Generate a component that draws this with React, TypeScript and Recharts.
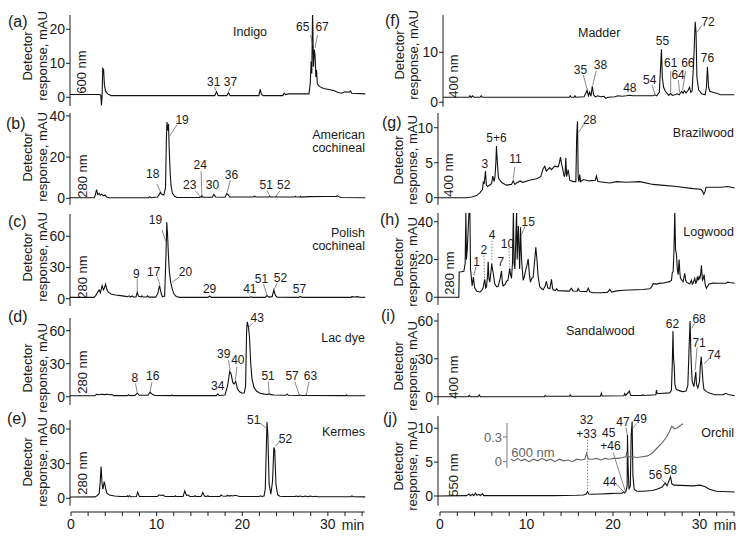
import React from "react";
import { LineChart, Line, XAxis, YAxis, ReferenceLine, ReferenceDot } from "recharts";

type Pt = [number, number];
type Note = { text: string; at: Pt; lead?: [Pt, Pt]; dash?: boolean };

// retention time (min), detector response (mAU)
const indigo: Pt[] = [
  [-0.2, 0.8], [3.2, 0.8], [3.4, 0.6], [3.47, -2.4], [3.55, 0.4], [3.62, 8.5], [3.72, 8.2], [3.82, 3.5], [3.95, 1.8], [4.2, 1.0], [4.6, 0.5],
  [16.7, 0.5], [16.9, 1.6], [17.1, 0.5], [18.1, 0.5], [18.3, 1.3], [18.5, 0.5], [21.85, 0.5], [22.0, 2.3], [22.15, 0.9], [22.35, 0.5],
  [24.65, 0.5], [24.8, 1.2], [24.95, 0.8], [25.3, 1.0], [27.7, 1.0], [27.85, 4], [27.95, 10.5], [28.03, 7], [28.12, 26], [28.22, 9],
  [28.33, 14], [28.42, 12], [28.5, 6], [28.58, 8], [28.68, 4], [28.9, 3.2], [29.4, 2.6], [30.0, 2.3], [30.6, 2.0], [31.1, 1.4],
  [31.5, 1.2], [31.9, 1.6], [32.4, 1.5], [32.55, 1.9], [32.7, 1.2], [34.3, 1.0],
];
const americanCochineal: Pt[] = [
  [-0.2, 0.3], [2.6, 0.3], [2.75, 1.5], [2.9, 4.2], [3.05, 1.8], [3.2, 2.4], [3.35, 1.5], [3.5, 2.0], [3.7, 1.2], [3.9, 1.6], [4.1, 0.5],
  [4.4, 0.3], [9.0, 0.3], [9.1, 0.8], [9.25, 0.3], [10.0, 0.6], [10.2, 1.6], [10.35, 2.9], [10.5, 2.0], [10.75, 1.6], [10.95, 5],
  [11.05, 28], [11.12, 37], [11.2, 33], [11.3, 36], [11.4, 22], [11.5, 12], [11.6, 6], [11.75, 2.5], [12.0, 1.0], [12.3, 0.4],
  [14.9, 0.4], [15.0, 0.8], [15.1, 0.5], [15.2, 1.3], [15.3, 0.5], [16.4, 0.5], [16.6, 1.9], [16.8, 0.6], [17.9, 0.5], [18.1, 2.3],
  [18.3, 1.5], [18.45, 0.6], [21.2, 0.6], [21.35, 1.0], [21.5, 0.6], [23.0, 0.6], [23.1, 1.1], [23.2, 0.6], [23.8, 0.6], [23.9, 1.0],
  [24.0, 0.6], [26.0, 0.6], [26.1, 1.0], [26.2, 0.6], [26.6, 0.6], [26.7, 1.0], [26.8, 0.6], [27.7, 0.8], [29.5, 0.9], [30.9, 0.9],
  [31.0, 1.3], [31.2, 0.8], [31.5, 0.4], [34.3, 0.3],
];
const polishCochineal: Pt[] = [
  [-0.2, 1.3], [2.6, 1.3], [2.8, 3], [3.0, 6], [3.2, 8.5], [3.35, 5.5], [3.55, 12.5], [3.7, 8.5], [3.8, 10], [3.95, 14], [4.1, 9],
  [4.3, 6], [4.6, 4.5], [5.1, 3.5], [5.7, 3], [6.5, 2], [6.7, 2.8], [6.85, 1.6], [7.05, 2.6], [7.2, 1.6], [7.5, 1.6], [7.65, 6],
  [7.8, 2.3], [8.1, 1.8], [8.2, 2.8], [8.35, 1.6], [8.75, 1.6], [8.85, 2.8], [9.0, 1.5], [9.8, 1.5], [10.05, 5], [10.25, 12.5],
  [10.45, 5], [10.6, 1.8], [10.85, 2.5], [11.0, 40], [11.1, 73.5], [11.2, 60], [11.3, 40], [11.4, 26], [11.55, 16], [11.75, 9],
  [11.95, 4.5], [12.2, 2.2], [12.6, 1.3], [15.9, 1.3], [16.1, 2.6], [16.3, 1.3], [20.8, 1.3], [20.95, 1.9], [21.1, 1.3], [22.6, 1.3],
  [22.8, 3.0], [23.0, 1.6], [23.4, 2.0], [23.6, 8.3], [23.8, 3], [24.0, 1.5], [26.5, 1.3], [26.7, 2.2], [26.9, 1.3], [32.6, 1.3],
  [32.7, 2], [33.1, 1.7], [33.3, 2], [33.6, 1.5], [34.3, 1.3],
];
const lacDye: Pt[] = [
  [-0.2, 0.9], [2.7, 0.9], [2.9, 2.2], [3.2, 1.8], [3.5, 2.2], [3.8, 1.9], [4.1, 2.2], [4.4, 1.8], [4.7, 2.0], [4.9, 1.0], [6.5, 1.0],
  [6.65, 1.8], [6.8, 1.0], [7.4, 1.2], [7.65, 3.2], [7.9, 1.3], [8.9, 1.3], [9.15, 4.2], [9.4, 2.2], [9.7, 1.1], [11.6, 1.0],
  [11.7, 1.6], [11.8, 1.0], [16.9, 1.0], [17.05, 2.5], [17.2, 1.1], [17.9, 1.5], [18.2, 10], [18.45, 23], [18.6, 21], [18.8, 13],
  [18.95, 11.5], [19.15, 14], [19.35, 7], [19.6, 4.5], [19.9, 3.2], [20.15, 3.5], [20.3, 10], [20.42, 60], [20.5, 68], [20.62, 64],
  [20.75, 55], [20.9, 30], [21.05, 16], [21.3, 8], [21.6, 5], [22.0, 3.2], [22.5, 2.4], [22.9, 2.1], [23.05, 2.8], [23.25, 1.9],
  [23.6, 1.6], [25.0, 1.3], [25.15, 2.5], [25.3, 1.3], [26.5, 1.1], [26.6, 1.6], [26.7, 1.1], [27.3, 1.1], [27.4, 1.6], [27.5, 1.1],
  [32.0, 1.0], [32.1, 1.6], [32.2, 1.0], [34.3, 0.9],
];
const kermes: Pt[] = [
  [-0.2, 1.1], [2.7, 1.2], [2.95, 2.2], [3.2, 4], [3.33, 15], [3.43, 27.4], [3.55, 12], [3.65, 8], [3.8, 14.4], [3.95, 9], [4.1, 4.5],
  [4.4, 2.8], [5.0, 2.0], [5.7, 1.5], [6.4, 1.5], [6.5, 2.2], [6.6, 1.4], [6.75, 2.2], [6.9, 1.4], [7.55, 1.5], [7.7, 5.3], [7.9, 1.6],
  [10.0, 1.5], [10.2, 3.0], [10.45, 2.5], [10.7, 2.8], [10.9, 1.5], [12.0, 1.5], [12.1, 2.2], [12.2, 1.5], [13.0, 1.6], [13.2, 6.3],
  [13.4, 2.5], [13.6, 2.8], [13.8, 1.6], [14.3, 1.6], [14.4, 2.3], [14.5, 1.6], [15.1, 1.6], [15.3, 5], [15.5, 1.8], [15.8, 1.7],
  [15.9, 2.2], [16.0, 1.6], [17.3, 1.6], [17.45, 2.8], [17.6, 2], [18.0, 1.8], [18.2, 2.5], [18.4, 1.9], [18.6, 2.4], [18.9, 2.0],
  [19.0, 2.6], [19.3, 2.2], [19.6, 1.6], [21.9, 1.6], [22.05, 2.2], [22.2, 1.6], [22.45, 2.0], [22.6, 8], [22.7, 37], [22.8, 66],
  [22.9, 55], [23.05, 12], [23.25, 3.5], [23.45, 15], [23.6, 44], [23.7, 42], [23.85, 12], [24.05, 3], [24.3, 1.8], [24.7, 1.5],
  [26.1, 1.5], [26.2, 2.0], [26.4, 1.5], [26.7, 2], [26.9, 1.4], [27.3, 1.9], [27.5, 1.4], [27.9, 1.9], [28.1, 1.4], [28.5, 1.8],
  [28.65, 1.4], [32.6, 1.3], [32.7, 2.0], [32.9, 1.4], [34.3, 1.2],
];
const madder: Pt[] = [
  [0.3, 1.0], [3.3, 1.0], [3.4, 1.3], [3.55, 1.0], [3.7, 1.3], [3.85, 1.0], [4.6, 1.0], [4.7, 1.3], [4.85, 1.0], [14.9, 1.0], [15.0, 1.3],
  [15.1, 1.0], [15.45, 1.0], [15.55, 1.3], [15.65, 1.0], [16.6, 1.1], [16.8, 1.8], [16.95, 2.4], [17.1, 1.3], [17.25, 2.0], [17.4, 1.2],
  [17.55, 3.2], [17.7, 1.5], [17.9, 1.1], [18.2, 1.3], [18.5, 1.1], [18.9, 1.2], [19.1, 0.8], [19.4, 1.0], [20.2, 1.1], [20.5, 1.3],
  [21.0, 1.2], [21.5, 1.3], [21.85, 1.4], [22.2, 1.3], [24.6, 1.3], [24.8, 1.5], [25.0, 1.3], [25.3, 2.0], [25.42, 6], [25.55, 10.6],
  [25.65, 5], [25.8, 3], [26.0, 2.2], [26.4, 1.4], [26.6, 1.8], [26.8, 1.4], [27.1, 1.5], [27.4, 1.7], [27.6, 1.5], [27.9, 2.2],
  [28.05, 1.8], [28.2, 2.3], [28.4, 1.9], [28.6, 2.3], [28.8, 3.0], [28.95, 2.0], [29.1, 2.3], [29.3, 9], [29.45, 16.1], [29.55, 14],
  [29.65, 5], [29.85, 2.5], [30.2, 1.7], [30.6, 1.5], [30.75, 3], [30.87, 7.1], [31.0, 3], [31.15, 2.2], [31.5, 2.0], [31.9, 1.8],
  [32.4, 1.5], [34.0, 1.5],
];
const brazilwood: Pt[] = [
  [-0.29, 0], [3.0, 0], [3.6, 0.1], [4.16, 0.3], [4.55, 0.7], [4.86, 1.2], [4.95, 2.3], [5.05, 2.0], [5.2, 3.8], [5.3, 1.8], [5.45, 1.6],
  [5.9, 2.0], [6.05, 3.1], [6.2, 2.3], [6.3, 3.0], [6.4, 5], [6.47, 7.4], [6.55, 5.5], [6.7, 2.8], [7.05, 2.2], [7.6, 1.8], [8.2, 1.9],
  [8.4, 2.4], [8.6, 1.9], [8.8, 2.1], [9.2, 2.4], [9.5, 2.2], [10.3, 2.5], [11.1, 2.7], [11.6, 3.0], [11.85, 4.1], [12.05, 4.5],
  [12.25, 3.8], [12.6, 4.3], [12.83, 4.0], [13.2, 4.5], [13.6, 4.4], [13.75, 5.0], [13.87, 5.8], [14.0, 4.8], [14.1, 4.3], [14.3, 3.0],
  [14.4, 3.4], [14.49, 5.7], [14.58, 3.0], [14.76, 4.0], [14.95, 2.5], [15.34, 2.3], [15.65, 2.3], [15.75, 8.9], [15.84, 10.9],
  [15.92, 3.0], [16.0, 2.3], [16.1, 3.3], [16.2, 2.3], [16.5, 2.6], [17.2, 2.4], [17.9, 2.5], [18.03, 3.1], [18.2, 2.3], [19.57, 2.1],
  [20.35, 2.3], [21.5, 2.2], [23.04, 2.3], [24.58, 1.9], [25.5, 1.8], [27.3, 1.6], [29.2, 1.3], [30.1, 1.2], [30.3, 0.9], [30.45, 0.5],
  [30.6, 0.9], [30.7, 1.5], [31.14, 1.5], [32.5, 1.5], [33.2, 1.6], [34.03, 1.4],
];
const logwood: Pt[] = [
  [-0.29, 0], [2.12, 0], [2.16, 13.4], [2.4, 13.5], [2.7, 13.8], [2.85, 18], [2.93, 46], [3.0, 20], [3.09, 25], [3.3, 46], [3.4, 46],
  [3.47, 15], [3.58, 9.8], [3.66, 6], [3.8, 10.7], [3.95, 5], [4.2, 3.2], [4.55, 2.8], [4.75, 3.5], [4.93, 5], [5.05, 8], [5.12, 9.5],
  [5.22, 5], [5.32, 5.5], [5.45, 12], [5.51, 18.8], [5.6, 10], [5.7, 8], [5.82, 13], [5.93, 18], [6.0, 15], [6.09, 13], [6.28, 7],
  [6.5, 5.5], [6.67, 5.8], [6.9, 10], [7.05, 13.9], [7.15, 8], [7.24, 6], [7.5, 7], [7.63, 8.5], [7.8, 9], [8.01, 15.3], [8.1, 12],
  [8.21, 10], [8.32, 18], [8.43, 46], [8.5, 18], [8.6, 15], [8.7, 30], [8.8, 46], [8.86, 20], [9.0, 37.7], [9.08, 25], [9.15, 15],
  [9.25, 37], [9.33, 25], [9.4, 18], [9.56, 9], [9.7, 11], [9.83, 14], [10.0, 17], [10.14, 20.3], [10.28, 12], [10.4, 8], [10.55, 10],
  [10.71, 10.5], [10.9, 20], [11.02, 26.5], [11.15, 20], [11.29, 11], [11.48, 5.6], [11.7, 4.5], [11.87, 4.0], [12.1, 6], [12.25, 8.5],
  [12.4, 5], [12.64, 4.5], [12.83, 9.5], [12.95, 5], [13.02, 4], [13.3, 3.6], [13.41, 4.5], [13.6, 3.5], [14.18, 3.4], [14.9, 3.3],
  [15.14, 4.8], [15.3, 3.3], [15.8, 3.2], [15.92, 4.6], [16.1, 3.2], [16.9, 3.0], [17.08, 4.8], [17.25, 2.9], [17.65, 2.4], [18.5, 2.4],
  [19.3, 2.6], [19.57, 4.2], [19.8, 2.8], [20.35, 3.4], [21.2, 3.7], [21.89, 3.9], [22.6, 4.0], [23.43, 4.1], [24.2, 4.5], [24.4, 5.5],
  [24.58, 7.2], [25.0, 7.0], [25.36, 7.5], [25.7, 7.4], [26.13, 8.0], [26.5, 8.3], [26.71, 9], [26.8, 13], [26.9, 13.5], [27.0, 25],
  [27.09, 46], [27.18, 25], [27.28, 23], [27.38, 15], [27.48, 12], [27.59, 20], [27.68, 13], [27.75, 10], [28.05, 8.2], [28.24, 12.7],
  [28.35, 9], [28.44, 8], [28.82, 7], [29.02, 9], [29.12, 7], [29.21, 7.5], [29.4, 10], [29.5, 7.5], [29.6, 8], [29.7, 11], [29.79, 9],
  [29.9, 11], [29.98, 10], [30.08, 12], [30.17, 17], [30.29, 9], [30.4, 10], [30.48, 12], [30.6, 7], [30.75, 4.8], [30.9, 6],
  [31.06, 7], [31.52, 7.5], [32.2, 7.4], [33.06, 7.5], [33.2, 8], [33.45, 7.8], [34.03, 7.4],
];
const sandalwood: Pt[] = [
  [-0.29, 0], [3.2, 0], [3.32, 1], [3.45, 0], [4.35, 0], [4.48, 1.5], [4.6, 0], [12.0, 0], [12.1, 1], [12.2, 0.3], [14.9, 0.3],
  [15.0, 1.5], [15.1, 0.4], [18.5, 0.4], [18.6, 2.8], [18.7, 0.5], [21.2, 0.8], [21.3, 2.5], [21.4, 1], [21.85, 4.5], [21.95, 1.5],
  [22.1, 1], [23.3, 1], [23.4, 1.5], [23.5, 1], [24.9, 1.5], [24.97, 5.2], [25.05, 2.5], [25.36, 2.5], [26.5, 3], [26.7, 5], [26.8, 25],
  [26.88, 52], [26.95, 30], [27.02, 25], [27.1, 10], [27.25, 6], [27.5, 5], [28.0, 4], [28.4, 4.5], [28.6, 9], [28.75, 40], [28.86, 60],
  [28.97, 30], [29.1, 12], [29.3, 8], [29.45, 16], [29.52, 19.8], [29.6, 10], [29.75, 7], [29.87, 10], [29.95, 12], [30.05, 25],
  [30.15, 31.7], [30.25, 22], [30.35, 12], [30.45, 6], [30.75, 4], [31.1, 3], [31.7, 1.5], [32.7, 1.5], [32.9, 2.5], [33.1, 2.3],
  [33.3, 1.8], [34.03, 0.8],
];
const orchil550: Pt[] = [
  [-0.29, 0], [3.0, 0.05], [3.3, 0.3], [3.45, 0.05], [3.7, 0.25], [3.85, 0.05], [4.05, 0.4], [4.2, 0.1], [4.45, 0.25], [4.6, 0.05],
  [4.85, 0.35], [5.0, 0.05], [13.0, 0.05], [15.7, 0.1], [16.5, 0.15], [16.85, 0.3], [17.0, 0.65], [17.15, 0.3], [17.6, 0.25],
  [18.5, 0.3], [19.5, 0.35], [20.3, 0.4], [21.0, 0.4], [21.2, 0.6], [21.3, 0.45], [21.45, 0.7], [21.58, 1.5], [21.62, 9.0], [21.7, 4],
  [21.8, 1.0], [21.95, 1.5], [22.05, 9], [22.16, 11], [22.25, 3], [22.4, 1.0], [22.5, 0.9], [22.7, 0.7], [23.5, 0.7], [24.5, 0.8],
  [25.0, 1.0], [25.6, 1.3], [26.0, 1.9], [26.2, 1.5], [26.6, 2.85], [26.75, 1.8], [27.0, 1.6], [29.2, 1.5], [30.0, 1.6], [30.56, 1.4],
  [31.1, 1.0], [31.9, 0.7], [34.03, 0.6],
];
// inset: orchil at 600 nm
const orchil600: Pt[] = [
  [8.2, 0.03], [8.6, 0.01], [9.0, 0.04], [9.4, 0.01], [9.8, 0.03], [10.3, 0.0], [10.8, 0.03], [11.3, 0.01], [11.8, 0.04], [12.3, 0.01],
  [12.8, 0.03], [13.3, 0.0], [13.8, 0.03], [14.3, 0.01], [14.8, 0.02], [15.3, 0.0], [15.8, 0.03], [16.3, 0.02], [16.75, 0.03],
  [16.95, 0.1], [17.15, 0.03], [17.6, 0.03], [18.1, 0.04], [18.6, 0.02], [19.1, 0.04], [19.6, 0.03], [20.1, 0.04], [20.6, 0.04],
  [21.1, 0.05], [21.5, 0.06], [21.6, 0.12], [21.7, 0.06], [22.2, 0.06], [22.8, 0.05], [23.4, 0.06], [24.0, 0.07], [24.5, 0.1],
  [25.05, 0.16], [25.6, 0.22], [26.2, 0.3], [26.5, 0.36], [26.8, 0.43], [27.1, 0.4], [27.4, 0.41], [27.8, 0.44], [28.1, 0.46],
];

// peak numbers: label position and leader line, in data units
const notesIndigo: Note[] = [
  { text: "65", at: [26.97, 20.8], lead: [[27.87, 18.3], [28.14, 15.4]] },
  { text: "67", at: [29.23, 20.8], lead: [[28.7, 18.3], [28.4, 14.5]] },
  { text: "31", at: [16.58, 4.6], lead: [[16.65, 3.1], [16.85, 1.9]] },
  { text: "37", at: [18.53, 4.6], lead: [[18.55, 3.1], [18.3, 1.6]] },
];
const notesAmerican: Note[] = [
  { text: "19", at: [12.89, 38], lead: [[12.3, 35.7], [11.4, 30]] },
  { text: "18", at: [9.46, 12.1], lead: [[9.96, 6.9], [10.35, 3.2]] },
  { text: "23", at: [13.78, 6.5], lead: [[14.44, 3.6], [14.95, 1.3]] },
  { text: "24", at: [15.0, 16.2], lead: [[15.1, 13.2], [15.2, 1.6]] },
  { text: "30", at: [16.43, 6.5] },
  { text: "36", at: [18.65, 11.6], lead: [[18.52, 8.8], [18.14, 2.8]] },
  { text: "51", at: [22.7, 6.5], lead: [[22.8, 3.7], [23.1, 1.4]] },
  { text: "52", at: [24.75, 6.5], lead: [[24.3, 3.6], [23.9, 1.3]] },
];
const notesPolish: Note[] = [
  { text: "19", at: [9.78, 75.7], lead: [[10.55, 66], [11.0, 55]] },
  { text: "20", at: [13.28, 26], lead: [[12.6, 21], [11.75, 16]] },
  { text: "9", at: [7.55, 24.4], lead: [[7.65, 19.6], [7.65, 6.5]] },
  { text: "17", at: [9.57, 26], lead: [[10.0, 21], [10.3, 13.5]] },
  { text: "29", at: [16.1, 9.3] },
  { text: "41", at: [20.8, 9.3] },
  { text: "51", at: [22.15, 19.5], lead: [[22.4, 14], [22.8, 3.5]] },
  { text: "52", at: [24.37, 20.5], lead: [[24.0, 15.2], [23.6, 8.8]] },
  { text: "57", at: [26.6, 9.3] },
];
const notesLac: Note[] = [
  { text: "43", at: [21.65, 71.3], lead: [[21.1, 66.8], [20.65, 63]] },
  { text: "39", at: [17.75, 39.5], lead: [[18.3, 33.4], [18.5, 24]] },
  { text: "40", at: [19.4, 33.4], lead: [[19.3, 27.3], [19.1, 15]] },
  { text: "34", at: [17.05, 10] },
  { text: "8", at: [7.36, 17.3], lead: [[7.45, 12.2], [7.65, 3.5]] },
  { text: "16", at: [9.46, 18.8], lead: [[9.38, 13.6], [9.15, 4.5]] },
  { text: "51", at: [22.93, 18.8], lead: [[22.95, 13.6], [23.05, 3]] },
  { text: "57", at: [25.73, 18.8], lead: [[26.05, 13.6], [26.55, 2]] },
  { text: "63", at: [27.87, 18.8], lead: [[27.7, 13.6], [27.4, 2]] },
];
const notesKermes: Note[] = [
  { text: "51", at: [21.25, 67.8], lead: [[22.0, 65], [22.7, 61]] },
  { text: "52", at: [24.95, 52], lead: [[24.37, 50.5], [23.8, 45]] },
];
const notesMadder: Note[] = [
  { text: "72", at: [30.95, 16.1], lead: [[30.17, 15.3], [29.67, 14]] },
  { text: "76", at: [30.87, 9.0] },
  { text: "55", at: [25.66, 12.3] },
  { text: "61", at: [26.62, 7.9], lead: [[26.62, 6.3], [26.62, 2.0]] },
  { text: "64", at: [27.48, 5.5], lead: [[27.5, 4.5], [27.65, 2.0]] },
  { text: "66", at: [28.6, 7.9], lead: [[28.35, 6.3], [28.0, 2.5]] },
  { text: "35", at: [16.18, 6.5], lead: [[16.5, 5.5], [16.96, 2.6]] },
  { text: "38", at: [18.5, 7.5], lead: [[18.0, 6.3], [17.6, 3.4]] },
  { text: "48", at: [21.9, 3.0] },
  { text: "54", at: [24.2, 4.5], lead: [[24.47, 3.4], [24.8, 1.6]] },
];
const notesBrazil: Note[] = [
  { text: "28", at: [17.26, 11.1], lead: [[16.6, 10.5], [15.95, 9.3]] },
  { text: "5+6", at: [6.47, 8.6] },
  { text: "3", at: [5.12, 4.9] },
  { text: "11", at: [8.67, 5.6], lead: [[8.6, 4.4], [8.4, 2.6]] },
];
const notesLogwood: Note[] = [
  { text: "15", at: [10.14, 40], lead: [[9.75, 37.5], [9.36, 33]] },
  { text: "4", at: [5.97, 33], lead: [[5.95, 30], [5.93, 19]], dash: true },
  { text: "2", at: [5.0, 25], lead: [[5.02, 22], [5.1, 10]], dash: true },
  { text: "10", at: [7.75, 28.6], lead: [[7.9, 26], [8.0, 16]], dash: true },
  { text: "7", at: [6.97, 18.8] },
  { text: "1", at: [4.16, 18.8], lead: [[4.1, 16.2], [3.85, 11.5]] },
];
const notesSandal: Note[] = [
  { text: "62", at: [26.82, 58] },
  { text: "68", at: [29.9, 62], lead: [[29.4, 58], [29.0, 54]] },
  { text: "71", at: [29.9, 43], lead: [[29.67, 39], [29.45, 21]] },
  { text: "74", at: [31.64, 33.6], lead: [[31.14, 31], [30.5, 26]] },
];
const notesOrchil: Note[] = [
  { text: "32", at: [16.88, 11.2] },
  { text: "+33", at: [16.88, 9.16], lead: [[17.0, 8.3], [17.0, 0.8]], dash: true },
  { text: "45", at: [19.46, 9.3] },
  { text: "+46", at: [19.65, 7.4], lead: [[19.96, 6.4], [21.4, 0.6]] },
  { text: "44", at: [19.57, 2.1], lead: [[20.3, 1.8], [21.2, 0.6]] },
  { text: "47", at: [21.1, 10.9], lead: [[21.45, 10.1], [21.62, 9.0]] },
  { text: "49", at: [23.1, 11.4], lead: [[22.66, 10.7], [22.23, 10.0]] },
  { text: "56", at: [24.86, 3.2], lead: [[25.55, 2.4], [25.98, 1.9]] },
  { text: "58", at: [26.6, 3.85] },
];

const timeTicks = [0, 2, 4, 6, 8, 10, 12, 14, 16, 18, 20, 22, 24, 26, 28, 30, 32, 34];

type PanelDef = {
  data: Pt[]; notes: Note[]; x0: number; x1: number; top: number; bottom: number;
  t: [number, number]; y: [number, number]; ticks: number[];
};

const L = { x0: 69.5, x1: 365, t: [-0.2, 34.3] as [number, number] };
const R = { x0: 437.5, x1: 734.3, t: [-0.29, 34.03] as [number, number] };

const panels: PanelDef[] = [
  { ...L, data: indigo, notes: notesIndigo, top: 15, bottom: 106, y: [-2.56, 24.2], ticks: [0, 10, 20] },
  { ...L, data: americanCochineal, notes: notesAmerican, top: 113, bottom: 205, y: [-3.25, 41.4], ticks: [0, 20, 40] },
  { ...L, data: polishCochineal, notes: notesPolish, top: 214, bottom: 306, y: [-7.0, 81.4], ticks: [0, 30, 60] },
  { ...L, data: lacDye, notes: notesLac, top: 318, bottom: 405, y: [-7.5, 71.5], ticks: [0, 30, 60] },
  { ...L, data: kermes, notes: notesKermes, top: 420, bottom: 505.7, y: [-6.4, 67.8], ticks: [0, 30, 60] },
  { x0: 442.5, x1: 734.3, t: [0.29, 34.03], data: madder, notes: notesMadder, top: 15, bottom: 106.7, y: [-0.88, 17.46], ticks: [0, 10] },
  { ...R, data: brazilwood, notes: notesBrazil, top: 113, bottom: 205, y: [-1.04, 12.1], ticks: [0, 5, 10] },
  { ...R, data: logwood, notes: notesLogwood, top: 213, bottom: 305, y: [-4.07, 44.6], ticks: [0, 20, 40] },
  { ...R, data: sandalwood, notes: notesSandal, top: 313, bottom: 405, y: [-6.58, 66.3], ticks: [0, 30, 60] },
  { ...R, data: orchil550, notes: notesOrchil, top: 416, bottom: 505.7, y: [-1.43, 11.8], ticks: [0, 5, 10] },
];

const INK = "#1a1a1a";
const YW = 34;

function Panel({ p }: { p: PanelDef }) {
  const rows = p.data.map(([t, v]) => ({ t, v }));
  return (
    <div style={{ position: "absolute", left: p.x0 - YW, top: p.top }}>
      <LineChart width={p.x1 - p.x0 + YW} height={p.bottom - p.top} data={rows} margin={{ top: 0, right: 0, bottom: 0, left: 0 }}>
        <XAxis dataKey="t" type="number" domain={p.t} hide allowDataOverflow />
        <YAxis
          type="number" domain={p.y} ticks={p.ticks} interval={0} allowDataOverflow width={YW}
          tickSize={4} tickMargin={1} tick={{ fontSize: 14, fill: INK }}
          axisLine={{ stroke: INK }} tickLine={{ stroke: INK }}
        />
        <Line dataKey="v" type="linear" stroke="#111" strokeWidth={1.1} dot={false} isAnimationActive={false} />
        {p.notes.map((n, i) =>
          n.lead ? (
            <ReferenceLine
              key={"l" + i}
              segment={[{ x: n.lead[0][0], y: n.lead[0][1] }, { x: n.lead[1][0], y: n.lead[1][1] }]}
              stroke="#555" strokeWidth={0.7} strokeDasharray={n.dash ? "1.5 1.5" : undefined} ifOverflow="visible"
            />
          ) : null
        )}
        {p.notes.map((n, i) => (
          <ReferenceDot
            key={"d" + i} x={n.at[0]} y={n.at[1]} r={0} fill="none" stroke="none" ifOverflow="visible"
            label={{ value: n.text, position: "center", fontSize: 12, fill: INK }}
          />
        ))}
      </LineChart>
    </div>
  );
}

function Inset() {
  const rows = orchil600.map(([t, v]) => ({ t, v }));
  const x0 = 507;
  const w = 30;
  return (
    <div style={{ position: "absolute", left: x0 - w, top: 423 }}>
      <LineChart width={734.3 - x0 + w} height={45} data={rows} margin={{ top: 0, right: 0, bottom: 0, left: 0 }}>
        <XAxis dataKey="t" type="number" domain={[7.75, 34.03]} hide allowDataOverflow />
        <YAxis
          type="number" domain={[-0.077, 0.47]} ticks={[0, 0.3]} interval={0} allowDataOverflow width={w}
          tickSize={4} tickMargin={1} tick={{ fontSize: 13, fill: "#666" }}
          axisLine={{ stroke: "#777" }} tickLine={{ stroke: "#777" }}
        />
        <Line dataKey="v" type="linear" stroke="#666" strokeWidth={1.1} dot={false} isAnimationActive={false} />
      </LineChart>
    </div>
  );
}

function TimeAxis({ left, right, domain }: { left: number; right: number; domain: [number, number] }) {
  const rows = [{ t: domain[0], v: 0 }, { t: domain[1], v: 0 }];
  return (
    <div style={{ position: "absolute", left, top: 508 }}>
      <LineChart width={right - left} height={34} data={rows} margin={{ top: 2, right: 0, bottom: 0, left: 0 }}>
        <XAxis
          dataKey="t" type="number" domain={domain} ticks={timeTicks} interval={0} allowDataOverflow height={30}
          tickFormatter={(v: number) => (v % 10 === 0 ? String(v) : "")}
          tickSize={4} tickMargin={3} tick={{ fontSize: 14, fill: INK }}
          axisLine={{ stroke: INK }} tickLine={{ stroke: INK }}
        />
        <YAxis hide domain={[0, 1]} />
        <Line dataKey="v" stroke="none" dot={false} isAnimationActive={false} />
      </LineChart>
    </div>
  );
}

const letters = [
  ["(a)", 8, 27], ["(b)", 6, 129], ["(c)", 8, 227], ["(d)", 8, 322], ["(e)", 7, 424],
  ["(f)", 385, 26], ["(g)", 382, 128], ["(h)", 380, 225], ["(i)", 381, 321], ["(j)", 383, 424],
] as const;
const yLabelRows = [[56, 27, 42.5], [157, 27, 42.5], [257, 27, 42.5], [368, 27, 42.5], [462, 27, 42.5],
  [55, 399, 413], [160, 398, 412.5], [262, 398, 412.5], [366, 398, 412.5], [466, 398, 412.5]];
const wavelengths = [
  ["600 nm", 81, 72], ["280 nm", 82, 176], ["280 nm", 82, 277], ["280 nm", 82, 372], ["280 nm", 82, 473],
  ["400 nm", 453, 76], ["400 nm", 448, 175], ["280 nm", 449, 273], ["400 nm", 453, 377], ["550 nm", 453, 475],
] as const;
const names = [
  ["Indigo", 233, 36, "start"], ["American", 365, 139, "end"], ["cochineal", 365, 152, "end"],
  ["Polish", 365, 237, "end"], ["cochineal", 365, 250, "end"], ["Lac dye", 365, 342, "end"], ["Kermes", 365, 436, "end"],
  ["Madder", 578, 37, "start"], ["Brazilwood", 734, 137, "end"], ["Logwood", 734, 236, "end"],
  ["Sandalwood", 566, 335, "start"], ["Orchil", 734, 437, "end"],
] as const;

export default function App() {
  return (
    <div style={{ position: "absolute", left: 0, top: 0, width: 752, height: 541, background: "#fff", fontFamily: "Arial, 'Liberation Sans', Helvetica, sans-serif", overflow: "hidden" }}>
      <style>{`.recharts-surface{overflow:visible}`}</style>
      {panels.map((p, i) => <Panel key={i} p={p} />)}
      <Inset />
      <TimeAxis left={71.3} right={365} domain={[0, 34.3]} />
      <TimeAxis left={440} right={734.3} domain={[0, 34.03]} />
      <svg width={752} height={541} style={{ position: "absolute", left: 0, top: 0, pointerEvents: "none" }}>
        {letters.map(([t, x, y]) => (
          <text key={t} x={x} y={y} fontSize={16} fill={INK}>{t}</text>
        ))}
        {yLabelRows.map(([cy, xa, xb], i) => (
          <g key={i} fontSize={13} fill={INK} textAnchor="middle" dominantBaseline="central">
            <text x={xa} y={cy} transform={`rotate(-90 ${xa} ${cy})`}>Detector</text>
            <text x={xb} y={cy} transform={`rotate(-90 ${xb} ${cy})`}>response, mAU</text>
          </g>
        ))}
        {wavelengths.map(([t, x, y], i) => (
          <text key={i} x={x} y={y} fontSize={13} fill={INK} textAnchor="middle" dominantBaseline="central" transform={`rotate(-90 ${x} ${y})`}>{t}</text>
        ))}
        {names.map(([t, x, y, a], i) => (
          <text key={i} x={x} y={y} fontSize={12.5} fill={INK} textAnchor={a}>{t}</text>
        ))}
        <text x={533} y={452} fontSize={13} fill="#666" textAnchor="middle" dominantBaseline="central">600 nm</text>
        <text x={353} y={525} fontSize={14} fill={INK} textAnchor="middle" dominantBaseline="central">min</text>
        <text x={725} y={525} fontSize={14} fill={INK} textAnchor="middle" dominantBaseline="central">min</text>
      </svg>
    </div>
  );
}
